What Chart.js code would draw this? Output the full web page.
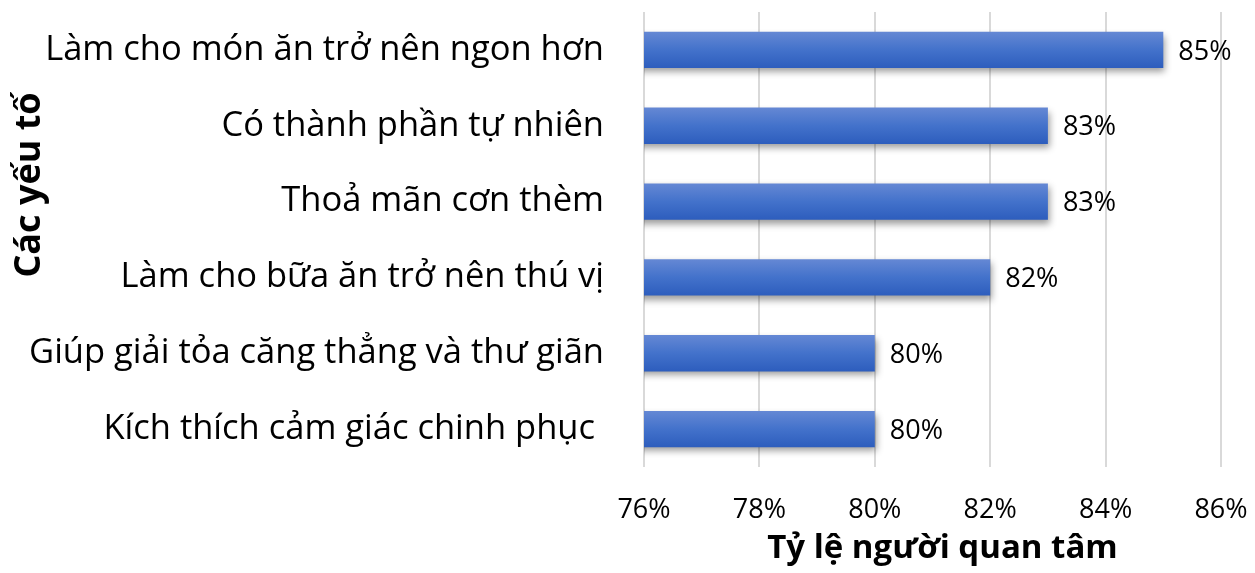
<!DOCTYPE html>
<html>
<head>
<meta charset="utf-8">
<script src="https://cdn.jsdelivr.net/npm/chart.js@4.4.1/dist/chart.umd.min.js"></script>
<style>
  html, body { margin: 0; padding: 0; background: #fff; }
  #wrap { width: 1255px; height: 573px; }
</style>
</head>
<body>
<div id="wrap"><canvas id="chart" width="1255" height="573"></canvas></div>
<script>
const categories = [
    'Làm cho món ăn trở nên ngon hơn',
    'Có thành phần tự nhiên',
    'Thoả mãn cơn thèm',
    'Làm cho bữa ăn trở nên thú vị',
    'Giúp giải tỏa căng thẳng và thư giãn',
    'Kích thích cảm giác chinh phục '
];
const values = [85, 83, 83, 82, 80, 80];
const xTicks = [76, 78, 80, 82, 84, 86];
const xTitle = 'Tỷ lệ người quan tâm';
const yTitle = 'Các yếu tố';

const fontFamily = '"Open Sans", "Noto Sans", sans-serif';
const barPct = 0.48;

// gradient fill like the excel bar style
function barFill(context) {
    const chart = context.chart;
    const ys = chart.scales.y;
    if (!ys || context.dataIndex === undefined) return '#4372cb';
    const cy = ys.getPixelForTick(context.dataIndex);
    const half = (ys.height / categories.length) * barPct / 2;
    if (!isFinite(cy) || !isFinite(half) || half <= 0) return '#4372cb';
    const g = chart.ctx.createLinearGradient(0, cy - half, 0, cy + half);
    g.addColorStop(0, '#6588d4');
    g.addColorStop(0.5, '#4372cb');
    g.addColorStop(1, '#2d5dbd');
    return g;
}

const shadowPlugin = {
    id: 'shadow',
    beforeDatasetsDraw(chart) {
        const c = chart.ctx;
        c.save();
        c.shadowColor = 'rgba(0,0,0,0.4)';
        c.shadowBlur = 7;
        c.shadowOffsetX = 2;
        c.shadowOffsetY = 4;
    },
    afterDatasetsDraw(chart) {
        chart.ctx.restore();
    }
};

const labelPlugin = {
    id: 'barLabels',
    afterDatasetsDraw(chart) {
        const c = chart.ctx;
        const meta = chart.getDatasetMeta(0);
        c.save();
        c.font = '27px ' + fontFamily;
        c.fillStyle = '#000';
        c.textAlign = 'left';
        c.textBaseline = 'middle';
        meta.data.forEach((bar, i) => {
            c.fillText(values[i] + '%', bar.x + 15, bar.y + 2);
        });
        c.restore();
    }
};

const titlePlugin = {
    id: 'titles',
    afterDraw(chart) {
        const c = chart.ctx;
        const area = chart.chartArea;
        c.save();
        c.fillStyle = '#000';
        c.font = 'bold 33px ' + fontFamily;
        c.textAlign = 'center';
        c.textBaseline = 'middle';
        c.fillText(xTitle, (area.left + area.right) / 2 + 10, 549);
        c.font = 'bold 36px ' + fontFamily;
        c.translate(30, 185);
        c.rotate(-Math.PI / 2);
        c.fillText(yTitle, 0, 0);
        c.restore();
    }
};

function noPad(scale) {
    scale.paddingTop = 0;
    scale.paddingBottom = 0;
    scale.paddingLeft = 0;
    scale.paddingRight = 0;
}

new Chart(document.getElementById('chart').getContext('2d'), {
    type: 'bar',
    data: {
        labels: categories,
        datasets: [{
            data: values,
            backgroundColor: barFill,
            borderWidth: 0,
            barPercentage: barPct,
            categoryPercentage: 1
        }]
    },
    options: {
        indexAxis: 'y',
        responsive: false,
        animation: false,
        layout: { padding: { top: 12, right: 34, left: 0, bottom: 0 } },
        plugins: {
            legend: { display: false },
            tooltip: { enabled: false }
        },
        scales: {
            x: {
                min: 76,
                max: 86,
                afterBuildTicks: (scale) => {
                    scale.ticks = xTicks.map(v => ({ value: v }));
                },
                afterFit: (scale) => { scale.height = 106; noPad(scale); },
                border: { display: false },
                grid: { color: '#d9d9d9', lineWidth: 2, drawTicks: false },
                ticks: {
                    padding: 27,
                    color: '#000',
                    font: { size: 27, family: fontFamily },
                    callback: (v) => v + '%'
                }
            },
            y: {
                afterFit: (scale) => { scale.width = 644; noPad(scale); },
                border: { display: false },
                grid: { display: false },
                ticks: {
                    padding: 32,
                    color: '#000',
                    font: { size: 34.5, family: fontFamily }
                }
            }
        }
    },
    plugins: [shadowPlugin, labelPlugin, titlePlugin]
});
</script>
</body>
</html>
